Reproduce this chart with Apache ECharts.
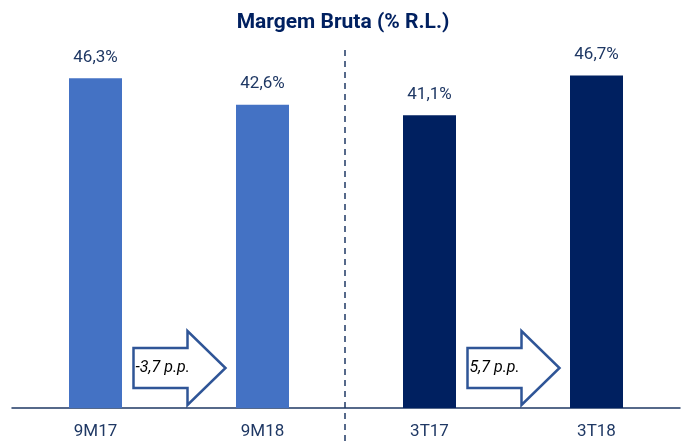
<!DOCTYPE html>
<html>
<head>
<meta charset="utf-8">
<script src="https://cdn.jsdelivr.net/npm/echarts@6/dist/echarts.min.js"></script>
<style>
  html, body { margin: 0; padding: 0; background: #fff; }
  #chart { width: 686px; height: 445px; }
</style>
</head>
<body>
<div id="chart"></div>
<script>
// dados
var categorias = ['9M17', '9M18', '3T17', '3T18'];
var margem = [46.3, 42.6, 41.1, 46.7];
var variacoes = ['-3,7 p.p.', '5,7 p.p.'];   // 9M18 vs 9M17, 3T18 vs 3T17

var corClara = '#4472C4';
var corEscura = '#002060';
var corTexto = '#1F3864';

var myChart = echarts.init(document.getElementById('chart'));

function fmt(v) {
    return v.toFixed(1).replace('.', ',') + '%';
}

var option = {
    animation: false,
    title: {
        text: 'Margem Bruta (% R.L.)',
        left: 'center',
        top: 7,
        textStyle: { color: corEscura, fontFamily: 'Roboto', fontWeight: 'bold', fontSize: 21 }
    },
    grid: { left: 12, right: 6, top: 52, bottom: 37 },
    xAxis: {
        type: 'category',
        data: categorias,
        axisLine: { lineStyle: { color: corTexto, width: 1.5 } },
        axisTick: { show: false },
        axisLabel: { color: corTexto, fontFamily: 'Roboto', fontSize: 17, margin: 15 }
    },
    yAxis: {
        type: 'value',
        min: 0,
        max: 50,
        show: false,
        splitLine: { show: false }
    },
    series: [{
        type: 'bar',
        barWidth: 53,
        data: margem.map(function (v, i) {
            return { value: v, itemStyle: { color: i < 2 ? corClara : corEscura } };
        }),
        label: {
            show: true,
            position: 'top',
            distance: 12,
            color: corTexto,
            fontFamily: 'Roboto',
            fontSize: 17,
            formatter: function (p) { return fmt(p.value); }
        }
    }]
};
myChart.setOption(option);

// setas entre as barras (posicionadas a partir das categorias)
function seta(x0, x1, rotulo) {
    var yBase = myChart.convertToPixel({ yAxisIndex: 0 }, 0);
    var meio = yBase - 40;
    var corpo = 20, cabeca = 37, inicioCabeca = x1 - 38;
    var pts = [
        [x0, meio - corpo], [inicioCabeca, meio - corpo], [inicioCabeca, meio - cabeca],
        [x1, meio], [inicioCabeca, meio + cabeca], [inicioCabeca, meio + corpo], [x0, meio + corpo]
    ];
    return [{
        type: 'polygon',
        shape: { points: pts },
        style: { fill: '#fff', stroke: '#2F5597', lineWidth: 2.5 }
    }, {
        type: 'text',
        x: x0 + 2,
        y: meio,
        style: {
            text: rotulo, fill: '#000', fontFamily: 'Roboto', fontStyle: 'italic',
            fontSize: 16, verticalAlign: 'middle'
        }
    }];
}

var graficos = [];
[[0, 1], [2, 3]].forEach(function (par, k) {
    var xa = myChart.convertToPixel({ xAxisIndex: 0 }, categorias[par[0]]);
    var xb = myChart.convertToPixel({ xAxisIndex: 0 }, categorias[par[1]]);
    graficos = graficos.concat(seta(xa + 38, xb - 37, variacoes[k]));
});

// linha tracejada separando 9M e 3T
var xSep = (myChart.convertToPixel({ xAxisIndex: 0 }, categorias[1]) +
            myChart.convertToPixel({ xAxisIndex: 0 }, categorias[2])) / 2 - 1;
graficos.push({
    type: 'line',
    shape: { x1: xSep, y1: 50, x2: xSep, y2: 445 },
    style: { stroke: corTexto, lineWidth: 1.5, lineDash: [6, 5] }
});
myChart.setOption({ graphic: graficos });
</script>
</body>
</html>
